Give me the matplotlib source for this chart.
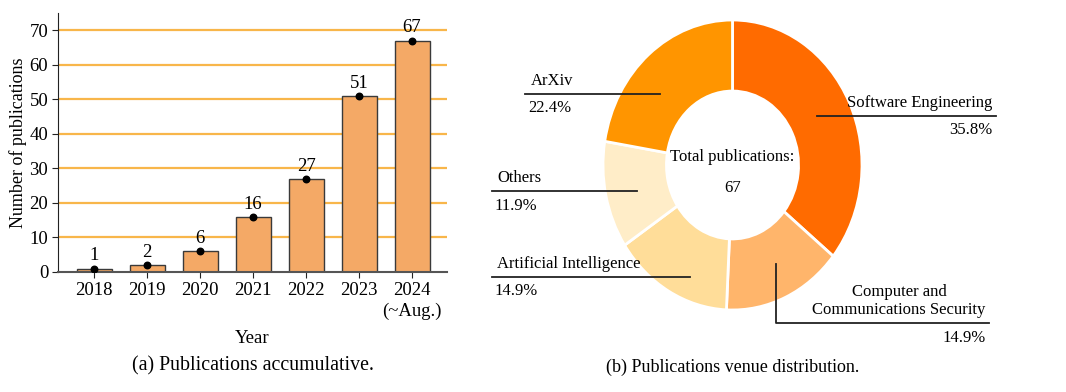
import numpy as np
import matplotlib
matplotlib.use("Agg")
import matplotlib.pyplot as plt

plt.rcParams["font.family"] = ["Liberation Serif", "DejaVu Serif"]
plt.rcParams["font.size"] = 13

# ── Datos ───────────────────────────────────────────────────────
years = ["2018", "2019", "2020", "2021", "2022", "2023", "2024\n(~Aug.)"]
counts = [1, 2, 6, 16, 27, 51, 67]

venues = ["Software Engineering", "Computer and\nCommunications Security",
          "Artificial Intelligence", "Others", "ArXiv"]
venue_counts = [24, 10, 10, 8, 15]
venue_colors = ["#FF6B00", "#FFB56B", "#FFDD99", "#FFEDC8", "#FF9500"]

# ── Colores ─────────────────────────────────────────────────────
BAR = "#F4A966"
GRID = "#F8B64A"

W, H = 1066, 392
fig = plt.figure(figsize=(W / 100, H / 100), dpi=100)


def box(x0, y0, x1, y1):
    """Caja en píxeles (origen arriba-izquierda) -> fracción de figura."""
    return [x0 / W, 1 - y1 / H, (x1 - x0) / W, (y1 - y0) / H]


# ── (a) barras acumuladas ───────────────────────────────────────
ax = fig.add_axes(box(58, 13, 447, 272))
x = np.arange(len(years))
for yv in range(10, 80, 10):
    ax.axhline(yv, color=GRID, linewidth=1.6, zorder=0)
ax.bar(x, counts, width=0.66, color=BAR, edgecolor="#3a3a3a",
       linewidth=1.0, zorder=2)
ax.scatter(x, counts, s=22, color="black", zorder=3)
for xi, c in zip(x, counts):
    ax.text(xi, c + 1.2, str(c), ha="center", va="bottom", fontsize=13.5)
ax.set_xlim(-0.68, 6.66)
ax.set_ylim(0, 75)
ax.set_yticks(range(0, 80, 10))
ax.set_xticks(x)
ax.set_xticklabels(years, linespacing=1.3)
ax.tick_params(axis="both", labelsize=13.5, color="#222222", length=4, pad=3)
ax.set_xlabel("Year", labelpad=7, fontsize=13.5)
ax.set_ylabel("Number of publications", labelpad=2)
for s in ("top", "right"):
    ax.spines[s].set_visible(False)
ax.spines["left"].set_color("#222222")
ax.spines["bottom"].set_color("#555555")
ax.spines["bottom"].set_linewidth(1.5)
fig.text(253 / W, 1 - 366 / H, "(a) Publications accumulative.",
         ha="center", va="center", fontsize=14.3)

# ── (b) donut de venues ─────────────────────────────────────────
cx, cy, rx, ry = 732.5, 165, 129.5, 145
pax = fig.add_axes(box(cx - rx, cy - ry, cx + rx, cy + ry))
wedges, _ = pax.pie(venue_counts, colors=venue_colors, startangle=90,
                    counterclock=False, radius=1.0,
                    wedgeprops=dict(width=0.49, edgecolor="white",
                                    linewidth=2.0))
pax.set_aspect("auto")
pax.set_xlim(-1, 1)
pax.set_ylim(-1, 1)
pax.axis("off")

total = sum(venue_counts)
FS_PIE = 12
pax.text(0, 0.055, "Total publications:", ha="center", va="center",
         fontsize=FS_PIE)
pax.text(0, -0.16, str(total), ha="center", va="center", fontsize=FS_PIE)

# líneas guía: inicio dentro de la cuña, extremo exterior (unidades del eje)
leader_start = [(0.65, 0.34), (0.335, -0.68), (-0.33, -0.77),
                (-0.74, -0.18), (-0.56, 0.49)]
leader_end_x = [2.035, 1.98, -1.86, -1.86, -1.60]
elbow_y = {1: -1.09}
label_side = ["right", "right", "left", "left", "left"]

for i, (name, n) in enumerate(zip(venues, venue_counts)):
    sx, sy = leader_start[i]
    ex = leader_end_x[i]
    pct = f"{100 * n / total:.1f}%"
    if i in elbow_y:
        ly = elbow_y[i]
        pax.plot([sx, sx, ex], [sy, ly, ly], color="#222222", lw=1.3,
                 clip_on=False)
    else:
        ly = sy
        pax.plot([sx, ex], [sy, ly], color="#222222", lw=1.3,
                 clip_on=False)
    if label_side[i] == "right":
        pax.text(ex - 0.025, ly + 0.035, name, ha="right", va="bottom",
                 multialignment="center", fontsize=FS_PIE,
                 linespacing=1.15, clip_on=False)
        pax.text(ex - 0.025, ly - 0.045, pct, ha="right", va="top",
                 fontsize=FS_PIE, clip_on=False)
    else:
        pax.text(ex + 0.045, ly + 0.035, name, ha="left", va="bottom",
                 fontsize=FS_PIE, clip_on=False)
        pax.text(ex + 0.02, ly - 0.045, pct, ha="left", va="top",
                 fontsize=FS_PIE, clip_on=False)

fig.text(cx / W, 1 - 367 / H, "(b) Publications venue distribution.",
         ha="center", va="center", fontsize=13)

fig.savefig("out.png", dpi=100, facecolor="white")
plt.close(fig)
